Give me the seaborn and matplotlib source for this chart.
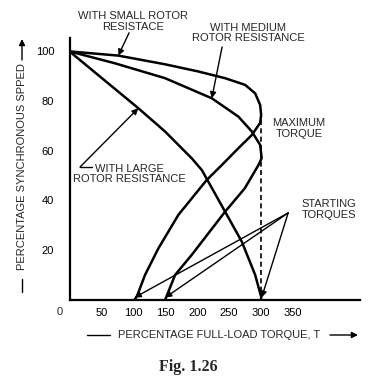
import pandas as pd
import matplotlib.pyplot as plt
from matplotlib.lines import Line2D
import seaborn as sns

sns.set_theme(style="white")
plt.rcParams["font.family"] = ["Liberation Sans", "DejaVu Sans"]

# Valores: % do torque de plena carga x % da velocidade síncrona
small_torque = [0, 76.5, 149.7, 201.9, 243.7, 275.1, 290.8, 298.6, 300.2, 298.6, 285.6,
                264.6, 238.6, 215.0, 170.5, 139.2, 118.3, 105.3, 102]
small_speed = [100, 98.3, 94.8, 91.9, 89.2, 86.5, 83.1, 78.4, 74.4, 71.2, 66.3,
               61.0, 54.2, 48.2, 34.1, 20.6, 9.9, 1.1, 0]

medium_torque = [0, 71.3, 149.7, 222.9, 264.6, 285.6, 298.6, 301, 296, 274.5, 243.7,
                 191.5, 165.4, 150]
medium_speed = [100, 95.2, 89.2, 81.1, 73.7, 67.7, 62.3, 57, 54.2, 44.8, 35.4,
                18.0, 9.9, 0]

large_torque = [0, 107.8, 149.7, 191.5, 207.2, 243.7, 269.9, 290.8, 300.2, 300]
large_speed = [100, 77.1, 67.7, 56.9, 52.2, 35.4, 23.3, 9.9, 1.1, 0]

x_ticks = [50, 100, 150, 200, 250, 300, 350, 400]
x_tick_labels = ["50", "100", "150", "200", "250", "300", "350", ""]
y_ticks = [20, 40, 60, 80, 100]

starting_torques = [102, 150, 301]
max_torque = 300
max_torque_speed = 76.4

W, H = 378, 384


def fx(px):
    return px / W


def fy(py):
    return 1 - py / H


df = pd.concat(
    [
        pd.DataFrame({"torque": small_torque, "speed": small_speed, "curve": "small"}),
        pd.DataFrame({"torque": medium_torque, "speed": medium_speed, "curve": "medium"}),
        pd.DataFrame({"torque": large_torque, "speed": large_speed, "curve": "large"}),
    ],
    ignore_index=True,
)

fig = plt.figure(figsize=(W / 100, H / 100), dpi=100)
ax = fig.add_axes([fx(69.5), fy(299.5), (360 - 69.5) / W, (299.5 - 38) / H])

sns.lineplot(
    data=df,
    x="torque",
    y="speed",
    units="curve",
    estimator=None,
    sort=False,
    color="black",
    lw=1.8,
    solid_joinstyle="round",
    ax=ax,
)

# linha tracejada do torque máximo
ax.vlines(max_torque, 0, max_torque_speed, colors="black", linestyles=(0, (3, 2)), lw=1.2)

ax.set_xlim(0, 455)
ax.set_ylim(0, 105.4)
ax.set_xticks(x_ticks)
ax.set_xticklabels(x_tick_labels)
ax.set_yticks(y_ticks)
ax.set_xlabel("")
ax.set_ylabel("")
for s in ["top", "right"]:
    ax.spines[s].set_visible(False)
for s in ["left", "bottom"]:
    ax.spines[s].set_color("black")
    ax.spines[s].set_linewidth(1.6)
ax.tick_params(axis="x", direction="in", length=4, width=1, pad=6, labelsize=8, colors="black")
ax.tick_params(axis="y", direction="out", length=5, width=1, pad=6, labelsize=8, colors="black")
ax.text(-16, -5, "0", fontsize=8, ha="center", va="center")

arrow = dict(arrowstyle="-|>", mutation_scale=9, lw=1.0, color="black", shrinkA=0, shrinkB=0)
txt = dict(fontsize=8, ha="center", va="center", linespacing=1.1)

ax.annotate("", xy=(76.5, 98.3), xytext=(93.3, 107.5), arrowprops=arrow, annotation_clip=False)
ax.text(99.5, 112, "WITH SMALL ROTOR\nRESISTACE", clip_on=False, **txt)

ax.annotate("", xy=(222.9, 81.1), xytext=(239, 101.8), arrowprops=arrow, annotation_clip=False)
ax.text(279.8, 107.4, "WITH MEDIUM\nROTOR RESISTANCE", clip_on=False, **txt)

ax.plot([35.3, 16.5], [53.4, 53.4], color="black", lw=1.0)
ax.annotate("", xy=(107.8, 77.1), xytext=(16.5, 53.4), arrowprops=arrow)
ax.text(93.3, 50.6, "WITH LARGE\nROTOR RESISTANCE", **txt)

ax.text(359.7, 68.8, "MAXIMUM\nTORQUE", clip_on=False, **txt)

for t in starting_torques:
    ax.annotate("", xy=(t, 0.8), xytext=(342.5, 34.9), arrowprops=arrow)
ax.text(406, 36.3, "STARTING\nTORQUES", clip_on=False, **txt)

# rótulos dos eixos com setas
fig.text(fx(219.5), fy(335), "PERCENTAGE FULL-LOAD TORQUE, T", fontsize=8, ha="center", va="center")
fig.add_artist(Line2D([fx(87), fx(110)], [fy(335), fy(335)], color="black", lw=1.0))
ax.annotate(
    "", xy=(fx(358), fy(335)), xytext=(fx(330), fy(335)),
    xycoords="figure fraction", textcoords="figure fraction", arrowprops=arrow,
)

fig.text(fx(22), fy(167), "PERCENTAGE SYNCHRONOUS SPPED", fontsize=8, rotation=90, ha="center", va="center")
fig.add_artist(Line2D([fx(22), fx(22)], [fy(292), fy(279)], color="black", lw=1.0))
ax.annotate(
    "", xy=(fx(22), fy(39)), xytext=(fx(22), fy(60)),
    xycoords="figure fraction", textcoords="figure fraction", arrowprops=arrow,
)

fig.text(fx(188), fy(367), "Fig. 1.26", fontsize=11.5, fontweight="bold",
         family="Liberation Serif", ha="center", va="center")

fig.savefig("out.png", dpi=100, facecolor="white")
